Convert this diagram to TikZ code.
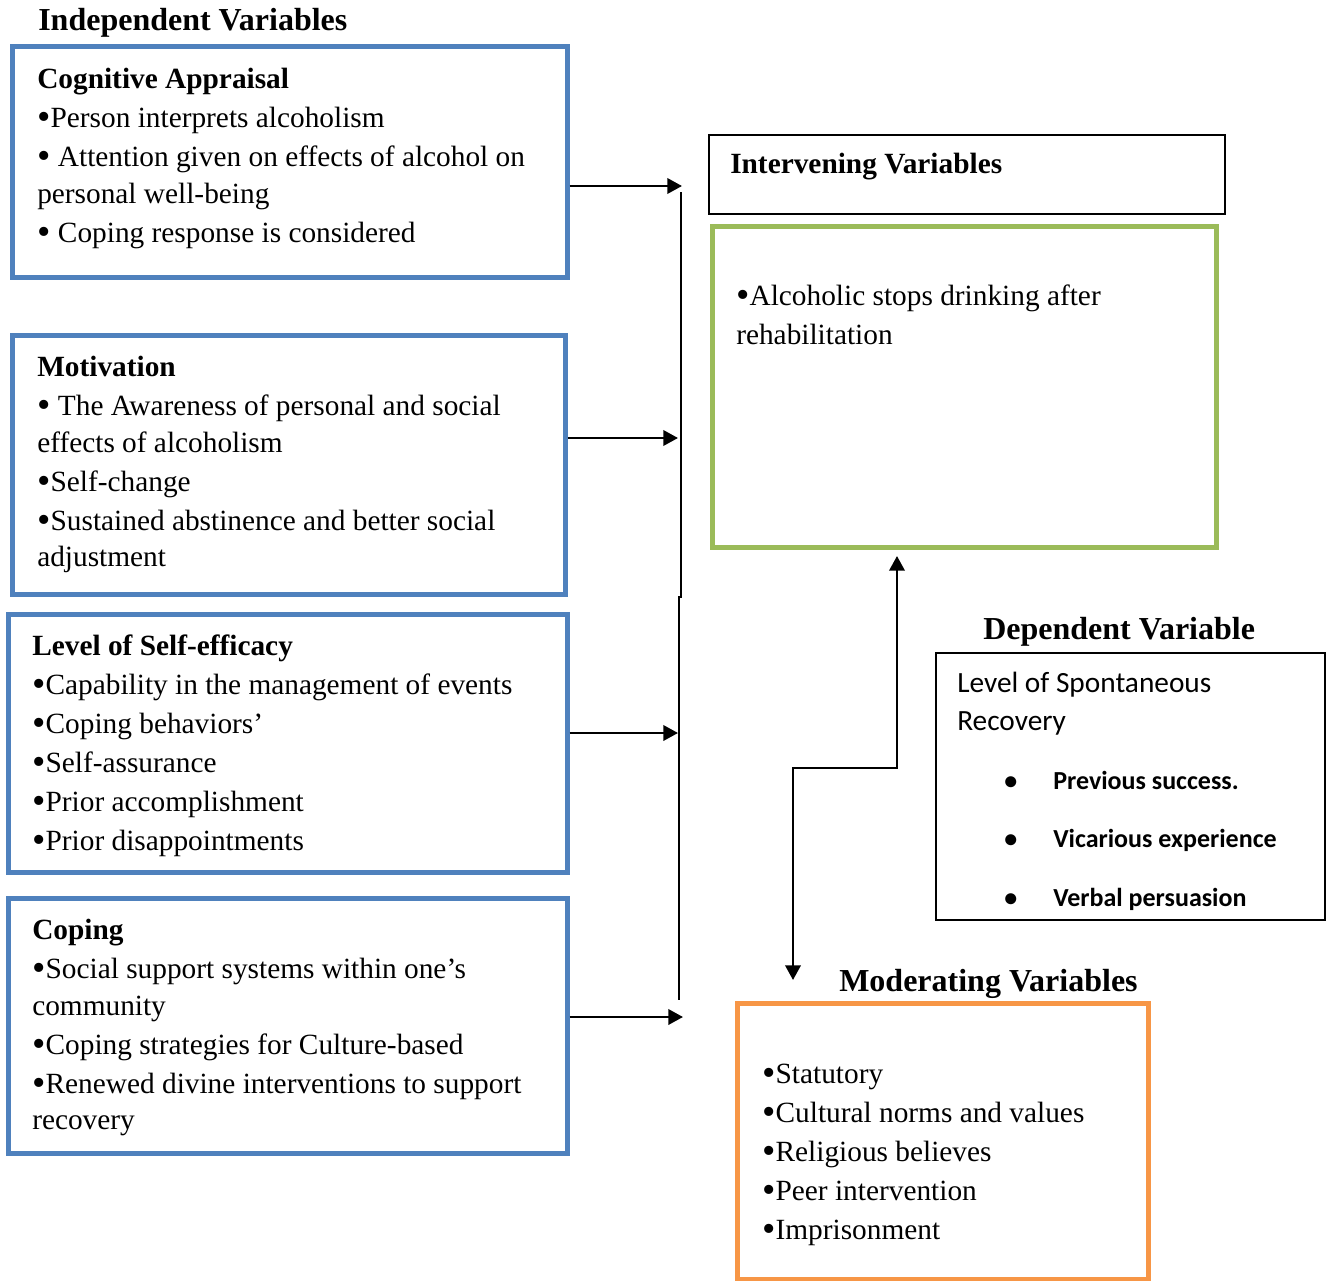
\documentclass[tikz,border=0pt]{standalone}
\usepackage{fontspec}
\usepackage{graphicx}
\setmainfont{Liberation Serif}
\newfontfamily\calibrifont{Carlito}
\usetikzlibrary{arrows.meta,fit}
\definecolor{boxblue}{RGB}{79,129,189}
\definecolor{boxgreen}{RGB}{155,187,89}
\definecolor{boxorange}{RGB}{247,150,70}
\newcommand{\bul}{\raisebox{-1.8pt}{\scalebox{1.3}{\textbullet}}}

\begin{document}
\begin{tikzpicture}[x=0.75pt,y=-0.75pt,
		>={Triangle[length=11pt,width=11.5pt]},
		frame/.style={inner sep=0pt, line width=3.75pt},
		bluebox/.style={frame, draw=boxblue},
		greenbox/.style={frame, draw=boxgreen},
		orangebox/.style={frame, draw=boxorange},
		plainbox/.style={inner sep=0pt, draw=black, line width=1.1pt},
		body/.style={anchor=base west, inner sep=0pt, text width=420pt, align=left,
			font=\fontsize{22}{27.5}\selectfont, execute at begin node={\spaceskip=0pt\relax}},
		head/.style={anchor=base west, inner sep=0pt, font=\fontsize{24}{28}\selectfont\bfseries},
		calbody/.style={anchor=base west, inner sep=0pt, text width=280pt, align=left,
			font=\calibrifont\fontsize{22}{27.5}\selectfont, execute at begin node={\spaceskip=0pt\relax}},
		calitem/.style={anchor=base west, inner sep=0pt, font=\calibrifont\fontsize{19.5}{24}\selectfont\bfseries},
		arr/.style={line width=1.9pt, ->},
		bar/.style={line width=1.5pt}]
	\useasboundingbox (0,0) rectangle (1332,1281);
	% corners of the boxes
	\coordinate (c1a) at (12,47);   \coordinate (c1b) at (567,277);
	\coordinate (c2a) at (12,335);  \coordinate (c2b) at (565,594);
	\coordinate (c3a) at (8,614);   \coordinate (c3b) at (567,872);
	\coordinate (c4a) at (8,898);   \coordinate (c4b) at (567,1153);
	\coordinate (iva) at (709,135); \coordinate (ivb) at (1225,214);
	\coordinate (gra) at (712,226); \coordinate (grb) at (1216,547);
	\coordinate (dpa) at (936,653); \coordinate (dpb) at (1325,920);
	\coordinate (mda) at (737,1003);\coordinate (mdb) at (1148,1279);
	\node[bluebox, fit=(c1a)(c1b)] (cog) {};
	\node[bluebox, fit=(c2a)(c2b)] (mot) {};
	\node[bluebox, fit=(c3a)(c3b)] (eff) {};
	\node[bluebox, fit=(c4a)(c4b)] (cop) {};
	\node[plainbox, fit=(iva)(ivb)] (interv) {};
	\node[greenbox, fit=(gra)(grb)] (stop) {};
	\node[plainbox, fit=(dpa)(dpb)] (dep) {};
	\node[orangebox, fit=(mda)(mdb)] (mod) {};
	% titles
	\node[head] (indeptitle) at (38,30.5) {Independent Variables};
	\node[body, font=\fontsize{22}{27.5}\selectfont\bfseries] (intervtitle) at (730,173.5) {Intervening Variables};
	\node[head] (deptitle) at (983,639.5) {Dependent Variable};
	\node[head] (modtitle) at (839,991.5) {Moderating Variables};
	% box texts
	\node[body] (cogtxt) at (37,88.5) {\textbf{Cognitive Appraisal}\\[1.75pt]
		\bul Person interprets alcoholism\\[1.75pt]
		\bul{} Attention given on effects of alcohol on\\
		personal well-being\\[1.75pt]
		\bul{} Coping response is considered};
	\node[body] (mottxt) at (37,376.5) {\textbf{Motivation}\\[1.75pt]
		\bul{} The Awareness of personal and social\\
		effects of alcoholism\\[1.75pt]
		\bul Self-change\\[1.75pt]
		\bul Sustained abstinence and better social\\
		adjustment};
	\node[body] (efftxt) at (32,655.5) {\textbf{Level of Self-efficacy}\\[1.75pt]
		\bul Capability in the management of events\\[1.75pt]
		\bul Coping behaviors’\\[1.75pt]
		\bul Self-assurance\\[1.75pt]
		\bul Prior accomplishment\\[1.75pt]
		\bul Prior disappointments};
	\node[body] (coptxt) at (32,939.5) {\textbf{Coping}\\[1.75pt]
		\bul Social support systems within one’s\\
		community\\[1.75pt]
		\bul Coping strategies for Culture-based\\[1.75pt]
		\bul Renewed divine interventions to support\\
		recovery};
	\node[body] (stoptxt) at (736,305.5) {\bul Alcoholic stops drinking after\\[1.75pt]
		rehabilitation};
	\node[calbody] (deptxt) at (957,692) {Level of Spontaneous\\[1.5pt]Recovery};
	\node[calitem] (dep1) at (1053,789) {\llap{\textbullet\hskip 27pt}Previous success.};
	\node[calitem] (dep2) at (1053,847) {\llap{\textbullet\hskip 27pt}Vicarious experience};
	\node[calitem] (dep3) at (1053,906) {\llap{\textbullet\hskip 27pt}Verbal persuasion};
	\node[body] (modtxt) at (762,1083.5) {\bul Statutory\\[1.75pt]
		\bul Cultural norms and values\\[1.75pt]
		\bul Religious believes\\[1.75pt]
		\bul Peer intervention\\[1.75pt]
		\bul Imprisonment};
	% connectors
	\coordinate (in1) at (682,186);
	\coordinate (in2) at (678,438);
	\coordinate (in3) at (678,733);
	\coordinate (in4) at (683,1017);
	\draw[arr] (cog.east |- in1) -- (in1);
	\draw[arr] (mot.east |- in2) -- (in2);
	\draw[arr] (eff.east |- in3) -- (in3);
	\draw[arr] (cop.east |- in4) -- (in4);
	\coordinate (bar1) at (681,192);
	\coordinate (bar2) at (681,597);
	\coordinate (bar3) at (679,597);
	\coordinate (bar4) at (679,1000);
	\draw[bar] (bar1) -- (bar2) -- (bar3) -- (bar4);
	\coordinate (uptip) at (897,556);
	\coordinate (downtip) at (793,980);
	\draw[arr, <->] (uptip) -- ++(0,212) -| (downtip);
\end{tikzpicture}
\end{document}
